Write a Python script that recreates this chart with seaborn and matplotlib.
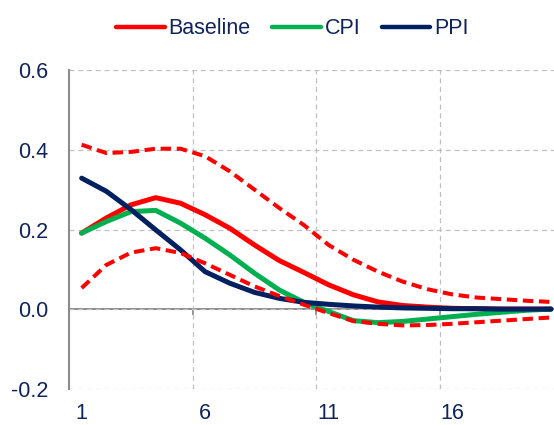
"""Impulse responses: Baseline vs CPI vs PPI, with baseline error bands."""

import matplotlib
matplotlib.use("Agg")
import matplotlib.pyplot as plt
import numpy as np
import pandas as pd
import seaborn as sns

# ── Data ────────────────────────────────────────────────────────────────────
periods = list(range(1, 21))

baseline = [0.191, 0.229, 0.262, 0.280, 0.266, 0.237, 0.203, 0.161, 0.122, 0.092,
            0.061, 0.036, 0.018, 0.009, 0.005, 0.002, 0.001, 0.000, 0.000, 0.000]
cpi      = [0.191, 0.220, 0.245, 0.248, 0.216, 0.178, 0.136, 0.090, 0.048, 0.017,
            -0.006, -0.029, -0.034, -0.031, -0.025, -0.019, -0.013, -0.008, -0.003, 0.000]
ppi      = [0.329, 0.296, 0.250, 0.199, 0.149, 0.094, 0.065, 0.042, 0.027, 0.017,
            0.012, 0.008, 0.005, 0.003, 0.002, 0.001, 0.001, 0.000, 0.000, 0.000]
upper    = [0.413, 0.392, 0.395, 0.403, 0.403, 0.384, 0.346, 0.300, 0.254, 0.211,
            0.161, 0.124, 0.094, 0.069, 0.050, 0.037, 0.029, 0.025, 0.021, 0.018]
lower    = [0.053, 0.111, 0.142, 0.153, 0.141, 0.115, 0.086, 0.057, 0.033, 0.011,
            -0.010, -0.030, -0.037, -0.041, -0.040, -0.037, -0.033, -0.029, -0.025, -0.021]

series_names  = ["Baseline", "CPI", "PPI"]
series_colors = ["#FF0000", "#00B050", "#002060"]

y_ticks      = [-0.2, 0.0, 0.2, 0.4, 0.6]
y_ticklabels = ["-0.2", "0.0", "0.2", "0.4", "0.6"]
x_ticks      = [1, 6, 11, 16]

TEXT = "#10245C"
GRID = "#C0C0C0"
AXIS = "#8C8C8C"

# ── Style ────────────────────────────────────────────────────────────────────
sns.set_style("white")
plt.rcParams["font.family"] = ["Liberation Sans", "DejaVu Sans"]
plt.rcParams["axes.unicode_minus"] = False

df = pd.DataFrame({
    "period": periods * 3,
    "value": baseline + cpi + ppi,
    "series": np.repeat(series_names, len(periods)),
})

fig = plt.figure(figsize=(5.54, 4.25), dpi=100)
ax = fig.add_axes([0.1251, 0.0854, 0.8917, 0.7492])

# ── Lines ────────────────────────────────────────────────────────────────────
sns.lineplot(data=df, x="period", y="value", hue="series",
             hue_order=series_names, palette=dict(zip(series_names, series_colors)),
             linewidth=3.6, ax=ax, zorder=3)

band_style = dict(color="#FF0000", linewidth=2.9, linestyle=(0, (2.6, 1.4)), zorder=4)
sns.lineplot(x=periods, y=upper, ax=ax, legend=False, **band_style)
sns.lineplot(x=periods, y=lower, ax=ax, legend=False, **band_style)

# ── Axes ─────────────────────────────────────────────────────────────────────
ax.set_xlim(0.5, 20.5)
ax.set_ylim(-0.2, 0.6)
ax.set_xlabel("")
ax.set_ylabel("")

ax.set_yticks(y_ticks)
ax.set_yticklabels(y_ticklabels)
ax.set_xticks(x_ticks)
ax.set_xticks([5.5, 10.5, 15.5], minor=True)

ax.tick_params(axis="y", direction="in", length=5, width=1.3, color=AXIS,
               pad=15, labelsize=15.5, labelcolor=TEXT)
ax.tick_params(axis="x", which="major", length=0, pad=10,
               labelsize=15.5, labelcolor=TEXT)
ax.tick_params(axis="x", which="minor", length=0)

ax.grid(axis="y", which="major", color=GRID, linestyle=(0, (4, 3)), linewidth=0.9)
ax.grid(axis="x", which="minor", color=GRID, linestyle=(0, (4, 3)), linewidth=0.9)

for side in ["top", "right", "bottom"]:
    ax.spines[side].set_visible(False)
ax.spines["left"].set_color(AXIS)
ax.spines["left"].set_linewidth(1.5)

# category axis crossing at zero, with tick marks between categories
zero_axis = ax.secondary_xaxis(0.25)
zero_axis.set_xticks([5.5, 10.5, 15.5])
zero_axis.set_xticklabels([])
zero_axis.tick_params(direction="out", length=4, width=1.3, color=AXIS)
zero_axis.spines["bottom"].set_color(AXIS)
zero_axis.spines["bottom"].set_linewidth(1.4)

# ── Legend ───────────────────────────────────────────────────────────────────
sns.move_legend(ax, "center", bbox_to_anchor=(0.452, 1.131), ncol=3,
                frameon=False, title=None, fontsize=15.5,
                handlelength=2.25, handletextpad=0.18, columnspacing=1.0)
leg = ax.get_legend()
for txt in leg.get_texts():
    txt.set_color(TEXT)
for h in leg.legend_handles:
    h.set_linewidth(3.2)
    h.set_solid_capstyle("round")

fig.savefig("out.png", dpi=100)
